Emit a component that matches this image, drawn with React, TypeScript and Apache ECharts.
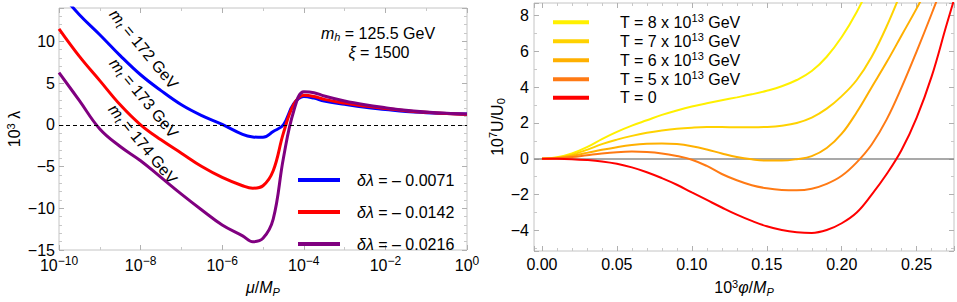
import React, { useEffect, useRef } from 'react';
import * as echarts from 'echarts';

// ---------------- data ----------------
// left panel: x = log10(mu / M_P)
const muExponent = [-10, -9.5, -9, -8.5, -8, -7.5, -7, -6.5, -6, -5.5, -5.25, -5, -4.75, -4.5, -4.25, -4, -3.75, -3.5, -3, -2.5, -2, -1.5, -1, -0.5, 0];
const lambdaMt172 = [16.0, 13.2, 10.8, 8.3, 6.0, 4.1, 2.4, 1.1, 0.05, -1.15, -1.45, -1.5, -0.8, 0.0, 2.5, 3.4, 3.2, 2.85, 2.45, 2.1, 1.85, 1.6, 1.45, 1.35, 1.3];
const lambdaMt173 = [11.5, 8.2, 5.3, 2.4, 0.0, -1.8, -3.4, -5.0, -6.3, -7.3, -7.6, -7.3, -5.5, -1.0, 2.4, 3.55, 3.4, 3.05, 2.6, 2.25, 1.95, 1.7, 1.5, 1.35, 1.25];
const lambdaMt174 = [6.26, 2.9, -0.5, -2.6, -4.3, -6.3, -8.3, -10.2, -12.0, -13.3, -14.0, -13.6, -11.3, -4.0, 1.6, 3.95, 3.85, 3.45, 2.85, 2.4, 2.05, 1.75, 1.55, 1.4, 1.3];
const deltaLambdaLabels = ['δλ = – 0.0071', 'δλ = – 0.0142', 'δλ = – 0.0216'];
const topMasses = ['172', '173', '174'];
const leftColors = ['#0000ff', '#ff0000', '#800080'];

// right panel: x = 10^3 phi / M_P
const phi = [0, 0.01, 0.02, 0.03, 0.04, 0.05, 0.06, 0.07, 0.08, 0.09, 0.1, 0.11, 0.12, 0.13, 0.14, 0.15, 0.16, 0.17, 0.18, 0.19, 0.2, 0.21, 0.22, 0.23, 0.24, 0.25, 0.26, 0.27, 0.28];
const uT8 = [0, 0.08, 0.3, 0.65, 1.1, 1.5, 1.85, 2.15, 2.45, 2.7, 2.92, 3.1, 3.27, 3.43, 3.6, 3.8, 4.05, 4.4, 4.9, 5.7, 6.8, 8.2, 9.9];
const uT7 = [0, 0.06, 0.23, 0.5, 0.82, 1.07, 1.28, 1.45, 1.58, 1.68, 1.74, 1.77, 1.77, 1.76, 1.76, 1.78, 1.85, 2.0, 2.3, 2.8, 3.5, 4.4, 5.7, 7.4, 9.4];
const uT6 = [0, 0.05, 0.17, 0.33, 0.5, 0.65, 0.77, 0.84, 0.86, 0.82, 0.7, 0.52, 0.3, 0.1, -0.03, -0.1, -0.1, -0.02, 0.15, 0.6, 1.4, 2.6, 4.0, 5.4, 6.9, 8.4, 10.0];
const uT5 = [0, 0.03, 0.1, 0.2, 0.3, 0.37, 0.4, 0.38, 0.3, 0.15, -0.05, -0.4, -0.85, -1.2, -1.48, -1.65, -1.74, -1.76, -1.67, -1.4, -0.95, -0.2, 0.8, 2.2, 4.0, 6.0, 8.1, 10.3];
const uT0 = [0, 0, -0.02, -0.07, -0.15, -0.28, -0.48, -0.75, -1.08, -1.45, -1.88, -2.3, -2.72, -3.12, -3.47, -3.77, -3.98, -4.1, -4.14, -3.98, -3.6, -3.0, -2.0, -0.85, 0.5, 2.3, 4.6, 7.5, 10.3];
const tempLabels = ['T = 8 x 10^13 GeV', 'T = 7 x 10^13 GeV', 'T = 6 x 10^13 GeV', 'T = 5 x 10^13 GeV', 'T = 0'];
const tempSeries = [uT8, uT7, uT6, uT5, uT0];
const tempColors = ['#fff000', '#ffd200', '#ffb000', '#ff7a14', '#ff0000'];

// ---------------- styling ----------------
const FONT = '"Liberation Sans", Arial, Helvetica, sans-serif';
const FRAME = '#c4c4c4';
const TICK = '#b0b0b0';

const tx = (size: number, extra: any = {}) => ({ fontFamily: FONT, fontSize: size, color: '#000', fill: '#000', ...extra });
const richSet = (size: number, small: number, lh?: number) => {
  const l = lh ? { lineHeight: lh } : {};
  return {
    n: tx(size, l),
    i: tx(size, { fontStyle: 'italic', ...l }),
    sup: tx(small, { padding: [0, 0, 8, 0], ...l }),
    sub: tx(small, { fontStyle: 'italic', padding: [8, 0, 0, 0], ...l }),
    subn: tx(small, { padding: [8, 0, 0, 0], ...l }),
  };
};
const minus = (s: string) => s.replace('-', '−');
const onStep = (v: number, step: number) => Math.abs(v / step - Math.round(v / step)) < 1e-6;

const majorTick = { show: true, inside: true, length: 5, lineStyle: { color: TICK, width: 1 } };
const minorTick = (n: number) => ({ show: true, splitNumber: n, length: 3, lineStyle: { color: '#c8c8c8', width: 1 } });

function pairAxes(gridIndex: number, common: any, main: any, otherPos: string, mainPos: string) {
  const base = { gridIndex, axisLine: { show: false, onZero: false }, splitLine: { show: false }, axisTick: majorTick, ...common };
  return [
    { ...base, position: mainPos, ...main },
    { ...base, position: otherPos, axisLabel: { show: false } },
  ];
}

function buildOption() {
  const xAxes = [
    ...pairAxes(0, { type: 'value', min: -10, max: 0, interval: 2, minorTick: minorTick(2) }, {
      axisLabel: {
        margin: 5,
        formatter: (v: number) => '{n|10}{sup|' + minus(String(v)) + '}',
        rich: richSet(16, 12),
      },
      name: '{i|μ}/{i|M}{sub|P}', nameLocation: 'middle', nameGap: 28,
      nameTextStyle: { ...tx(16), rich: richSet(16, 11) },
    }, 'top', 'bottom'),
    ...pairAxes(1, { type: 'value', min: -0.0053, max: 0.2749, splitNumber: 5, minorTick: minorTick(5) }, {
      axisLabel: {
        margin: 5, ...tx(16),
        formatter: (v: number) => (onStep(v, 0.05) ? v.toFixed(2) : ''),
      },
      name: '10{sup|3}{i|φ}/{i|M}{sub|P}', nameLocation: 'middle', nameGap: 27,
      nameTextStyle: { ...tx(16), rich: richSet(16, 11) },
    }, 'top', 'bottom'),
  ];
  const yAxes = [
    ...pairAxes(0, { type: 'value', min: -15, max: 14, interval: 5, minorTick: minorTick(5) }, {
      axisLabel: {
        margin: 4, ...tx(16),
        formatter: (v: number) => (onStep(v, 5) ? minus(String(v)) : ''),
      },
      name: '10{sup|3} λ', nameLocation: 'middle', nameGap: 35, nameRotate: 90,
      nameTextStyle: { ...tx(16), rich: richSet(16, 11) },
    }, 'right', 'left'),
    ...pairAxes(1, { type: 'value', min: -5.15, max: 8.7, splitNumber: 7, minorTick: minorTick(2) }, {
      axisLabel: {
        margin: 5, ...tx(16),
        formatter: (v: number) => (onStep(v, 2) ? minus(String(v)) : ''),
      },
      name: '10{sup|7}U/U{subn|0}', nameLocation: 'middle', nameGap: 26, nameRotate: 90,
      nameTextStyle: { ...tx(16), rich: richSet(16, 11) },
    }, 'right', 'left'),
  ];

  const leftData = [lambdaMt172, lambdaMt173, lambdaMt174];
  const leftSeries = leftData.map((arr, k) => ({
    type: 'line', name: deltaLambdaLabels[k], xAxisIndex: 0, yAxisIndex: 0,
    data: muExponent.map((e, i) => [e, arr[i]]),
    showSymbol: false, symbol: 'none', smooth: 0.4, clip: true,
    color: leftColors[k], lineStyle: { color: leftColors[k], width: 3 },
    markLine: k === 0 ? {
      silent: true, symbol: 'none', label: { show: false },
      lineStyle: { color: '#000', type: [4, 3], width: 1 },
      data: [{ yAxis: 0 }],
    } : undefined,
  }));

  const rightSeries = tempSeries.map((arr, k) => ({
    type: 'line', name: tempLabels[k], xAxisIndex: 2, yAxisIndex: 2,
    data: arr.map((u, i) => [phi[i], u]),
    showSymbol: false, symbol: 'none', smooth: 0.4, clip: true,
    color: tempColors[k], lineStyle: { color: tempColors[k], width: 2 },
    z: 3,
    markLine: k === 0 ? {
      silent: true, symbol: 'none', label: { show: false }, z: 1,
      lineStyle: { color: '#8c8c8c', type: 'solid', width: 1.5 },
      data: [{ yAxis: 0 }],
    } : undefined,
  }));

  const gRich = richSet(16, 11);
  const mtLabelPos = [[144, 49], [144, 98], [143, 144]];
  const graphic: any[] = topMasses.map((m, k) => ({
    type: 'text', x: mtLabelPos[k][0], y: mtLabelPos[k][1], rotation: -0.88,
    style: { text: '{i|m}{sub|t} = ' + m + ' GeV', rich: gRich, fontFamily: FONT, fontSize: 16, fill: '#000', align: 'center', verticalAlign: 'middle' },
  }));
  const hRich = richSet(16, 11);
  graphic.push(
    { type: 'text', x: 378, y: 33, style: { text: '{i|m}{sub|h} = 125.5 GeV', rich: hRich, fontFamily: FONT, fontSize: 16, fill: '#000', align: 'center', verticalAlign: 'middle' } },
    { type: 'text', x: 379, y: 52, style: { text: '{i|ξ} = 1500', rich: hRich, fontFamily: FONT, fontSize: 16, fill: '#000', align: 'center', verticalAlign: 'middle' } },
  );

  return {
    animation: false,
    backgroundColor: '#ffffff',
    textStyle: { fontFamily: FONT },
    grid: [
      { left: 59, top: 8, width: 408, height: 245, show: true, borderColor: FRAME, borderWidth: 1, backgroundColor: 'transparent' },
      { left: 534, top: 3, width: 421, height: 251, show: true, borderColor: FRAME, borderWidth: 1, backgroundColor: 'transparent' },
    ],
    xAxis: xAxes,
    yAxis: yAxes,
    legend: [
      {
        data: deltaLambdaLabels, orient: 'vertical', left: 298, top: 170, padding: 0,
        itemGap: 12, itemWidth: 42, itemHeight: 4, icon: 'rect', selectedMode: false,
        formatter: (name: string) => name.replace('δλ', '{i|δλ}'),
        textStyle: { ...tx(16), lineHeight: 20, padding: [0, 0, 0, 12], rich: richSet(16, 11, 20) },
      },
      {
        data: tempLabels, orient: 'vertical', left: 553, top: 12.7, padding: 0,
        itemGap: 0, itemWidth: 36, itemHeight: 4, icon: 'rect', selectedMode: false,
        formatter: (name: string) => name.replace('^13', '{sup|13}'),
        textStyle: { ...tx(16), lineHeight: 18, padding: [0, 0, 0, 26], rich: richSet(16, 11, 18) },
      },
    ],
    series: [...leftSeries, ...rightSeries],
    graphic,
  };
}

export default function App() {
  const ref = useRef<HTMLDivElement>(null);
  useEffect(() => {
    document.body.style.margin = '0';
    const chart = echarts.init(ref.current as HTMLDivElement, null, { renderer: 'svg' });
    chart.setOption(buildOption() as any);
    return () => chart.dispose();
  }, []);
  return <div ref={ref} style={{ width: 957, height: 302 }} />;
}
